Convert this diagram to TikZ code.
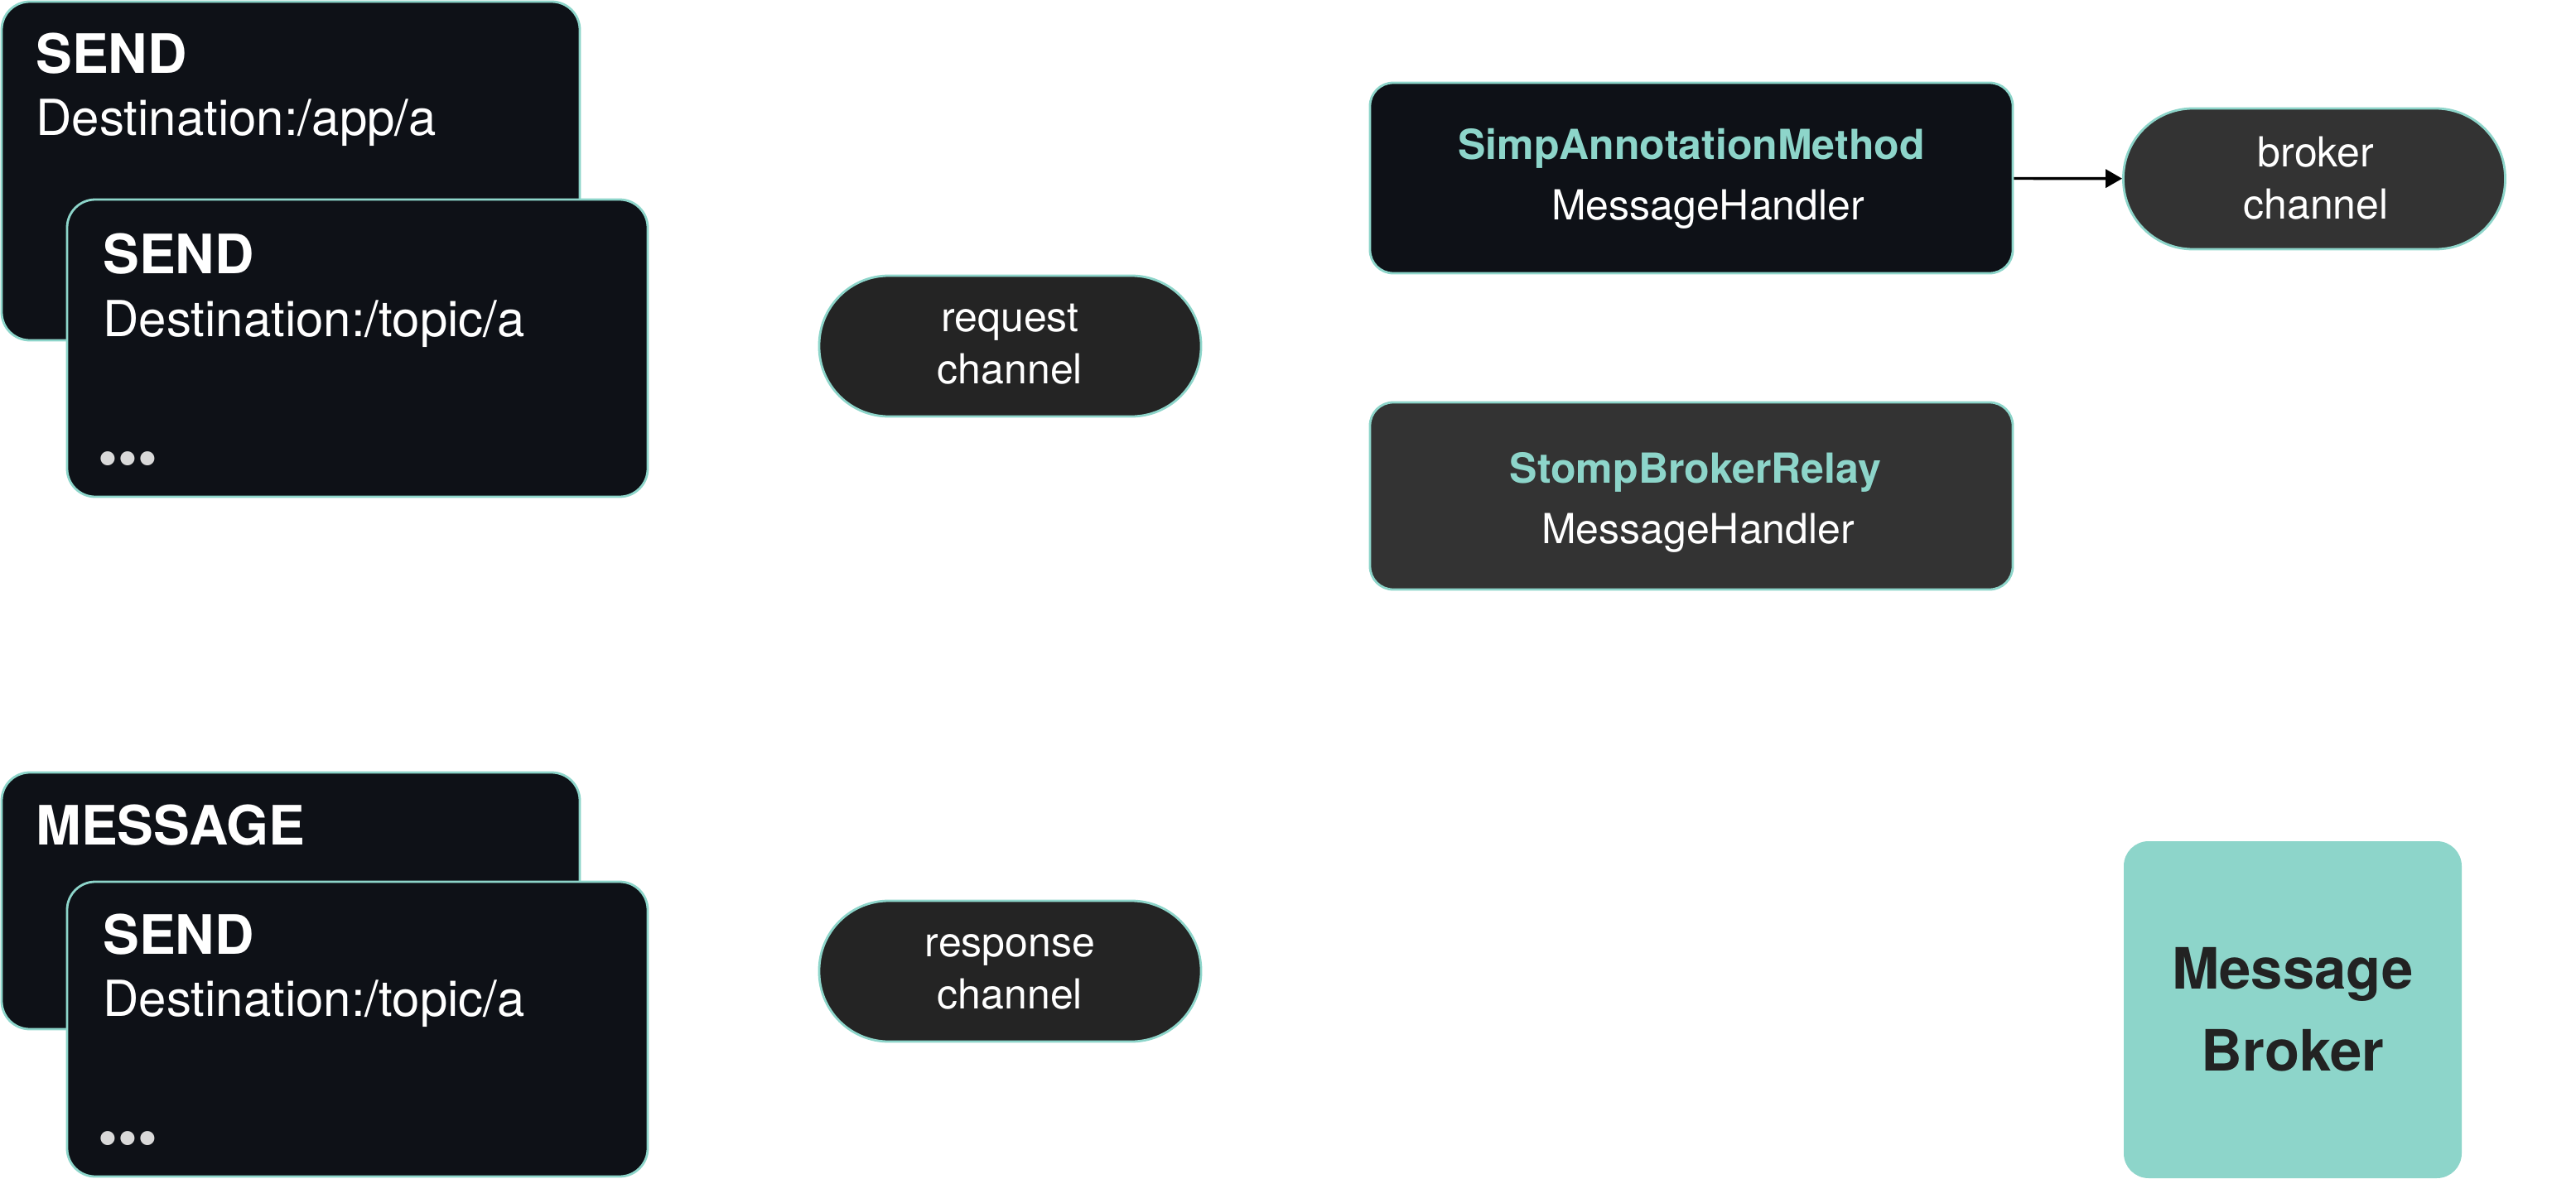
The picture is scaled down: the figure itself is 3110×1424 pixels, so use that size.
\documentclass[tikz,border=0pt]{standalone}
\usepackage{fontspec}
\setmainfont{TeX Gyre Heros}
\usetikzlibrary{arrows.meta}

\definecolor{cardbg}{HTML}{0E1117}
\definecolor{tealline}{HTML}{8DD5CA}
\definecolor{pillbg}{HTML}{242424}
\definecolor{greybg}{HTML}{333333}
\definecolor{dotgrey}{HTML}{D9D9D9}
\definecolor{inkdark}{HTML}{222222}

\tikzset{every picture/.style={line width=0.7pt}}
\tikzset{
  tealframe/.style={draw=tealline, line width=0.7pt, inner sep=0pt},
  card/.style={tealframe, fill=cardbg, rounded corners=8.5pt},
  pill/.style={tealframe, fill=pillbg, rounded corners=21pt, minimum width=115.25pt, minimum height=42.5pt},
  handler/.style={tealframe, rounded corners=7pt, minimum width=194pt, minimum height=57pt},
  head/.style={text=white, font=\fontsize{16.4}{19}\selectfont\bfseries, inner sep=0pt, anchor=base west},
  dest/.style={text=white, font=\fontsize{15}{18}\selectfont, inner sep=0pt, anchor=base west},
  moredots/.style={text=dotgrey, font=\fontsize{17}{20}\selectfont, inner sep=0pt, anchor=base west},
  chantext/.style={text=white, font=\fontsize{12.5}{15}\selectfont, inner sep=0pt, anchor=base},
  handlername/.style={text=tealline, font=\fontsize{12.5}{15}\selectfont\bfseries, inner sep=0pt, anchor=base},
  brokertext/.style={text=inkdark, font=\fontsize{17.2}{20}\selectfont\bfseries, inner sep=0pt, anchor=base},
  flow/.style={-{Triangle[length=5pt,width=5.5pt]}, line width=0.85pt, black}
}

\begin{document}
\begin{tikzpicture}[x=0.25pt,y=0.25pt,yscale=-1]
\useasboundingbox (0,0) rectangle (3110,1424);

%Shape: Rounded Rect [send /app/a]
\node [card, minimum width=174.5pt, minimum height=102.25pt] (sendapp) at (351,206.5) {};
%Shape: Rounded Rect [send /topic/a]
\node [card, minimum width=175.25pt, minimum height=89.75pt] (sendtopic) at (431.5,420.5) {};
%Shape: Rounded Rect [message]
\node [card, minimum width=174.5pt, minimum height=77.5pt] (msgcard) at (351,1088) {};
%Shape: Rounded Rect [send /topic/a, lower]
\node [card, minimum width=175.25pt, minimum height=89pt] (sendtopicb) at (431.5,1243) {};

%Shape: Pill [request channel]
\node [pill] (reqchan) at (1219.5,418) {};
%Shape: Pill [response channel]
\node [pill] (respchan) at (1219.5,1173) {};
%Shape: Pill [broker channel]
\node [pill, fill=greybg] (brokerchan) at (2794,216) {};

%Shape: Rounded Rect [simp handler]
\node [handler, fill=cardbg, minimum height=57.5pt] (simphandler) at (2042,215) {};
%Shape: Rounded Rect [stomp handler]
\node [handler, fill=greybg, minimum height=56.5pt] (stomphandler) at (2042,599) {};
%Shape: Rounded Rect [message broker]
\node [fill=tealline, rounded corners=7.5pt, inner sep=0pt, minimum width=102pt, minimum height=101.75pt] (broker) at (2768,1219.5) {};

%Straight Lines [simp -> broker channel]
\draw [flow] (simphandler) -- (brokerchan);

% Text Node
\node [head] (sendapphead) at (42,88) {SEND};
% Text Node
\node [dest] (sendappdest) at (42,164) {Destination:/app/a};
% Text Node
\node [head] (sendtopichead) at (123,330) {SEND};
% Text Node
\node [dest] (sendtopicdest) at (123,406) {Destination:/topic/a};
% Text Node
\node [moredots] (sendtopicmore) at (117,577) {•••};
% Text Node
\node [head] (msghead) at (42,1020) {MESSAGE};
% Text Node
\node [head] (sendtopicbhead) at (123,1152) {SEND};
% Text Node
\node [dest] (sendtopicbdest) at (123,1227) {Destination:/topic/a};
% Text Node
\node [moredots] (sendtopicbmore) at (117,1398) {•••};

% Text Node
\node [chantext] (reqtop) at (1219.5,400) {request};
% Text Node
\node [chantext] (reqbot) at (1219.5,463) {channel};
% Text Node
\node [chantext] (resptop) at (1219.5,1155) {response};
% Text Node
\node [chantext] (respbot) at (1219.5,1218) {channel};
% Text Node
\node [chantext] (brokertop) at (2796,201) {broker};
% Text Node
\node [chantext] (brokerbot) at (2796,264) {channel};

% Text Node
\node [handlername] (simpname) at (2042,193) {SimpAnnotationMethod};
% Text Node
\node [chantext] (simpkind) at (2062,265) {MessageHandler};
% Text Node
\node [handlername] (stompname) at (2047,583) {StompBrokerRelay};
% Text Node
\node [chantext] (stompkind) at (2050,656) {MessageHandler};

% Text Node
\node [brokertext] (brokertop2) at (2768,1194) {Message};
% Text Node
\node [brokertext] (brokerbot2) at (2768,1293) {Broker};

\end{tikzpicture}
\end{document}
